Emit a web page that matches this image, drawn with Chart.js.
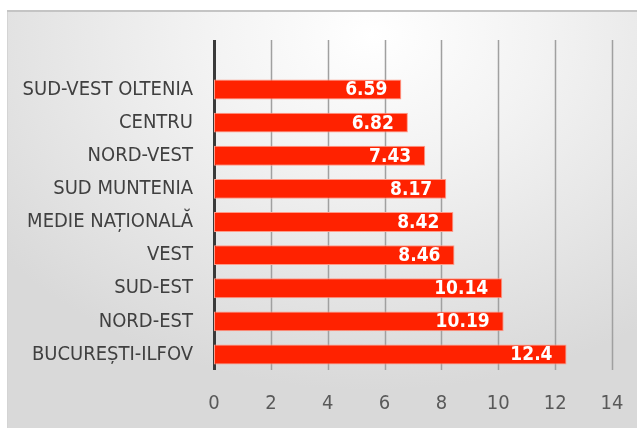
<!DOCTYPE html>
<html>
<head>
<meta charset="utf-8">
<script src="https://cdn.jsdelivr.net/npm/chart.js@4.4.1/dist/chart.umd.min.js"></script>
<style>
  html, body { margin: 0; padding: 0; background: #fff; }
  #panel {
    position: absolute; left: 7px; top: 10px; width: 630px; height: 418px;
    background: radial-gradient(ellipse 75% 85% at 58% 6%, #ffffff 0%, #f3f3f3 35%, #d9d9d9 100%);
    box-shadow: inset 0 2px 0 #c4c4c4, inset 1px 0 0 #d4d4d4;
  }
  #myChart { display: block; }
</style>
</head>
<body>
<div id="panel"><canvas id="myChart" width="630" height="418"></canvas></div>
<script>
// date grafic
var regions = ['SUD-VEST OLTENIA', 'CENTRU', 'NORD-VEST', 'SUD MUNTENIA', 'MEDIE NAȚIONALĂ', 'VEST', 'SUD-EST', 'NORD-EST', 'BUCUREȘTI-ILFOV'];
var values = [6.59, 6.82, 7.43, 8.17, 8.42, 8.46, 10.14, 10.19, 12.4];
var xTicks = [0, 2, 4, 6, 8, 10, 12, 14];

var fontFam = '"DejaVu Sans Condensed", "Liberation Sans Narrow", sans-serif';

// linii de grila prelungite peste zona categoriilor
var gridPlugin = {
  id: 'extGrid',
  beforeDatasetsDraw: function(chart) {
    var ctx = chart.ctx, xs = chart.scales.x, area = chart.chartArea;
    var top = area.top - 33, bottom = area.bottom - 1;
    ctx.save();
    xTicks.forEach(function(t) {
      var px = Math.round(xs.getPixelForValue(t)) + 0.5;
      ctx.beginPath();
      ctx.strokeStyle = t === 0 ? '#3a3a3a' : '#a0a0a0';
      ctx.lineWidth = t === 0 ? 3 : 1.5;
      ctx.moveTo(px, top);
      ctx.lineTo(px, bottom);
      ctx.stroke();
    });
    ctx.restore();
  }
};

// etichete valori in interiorul barelor
var labelPlugin = {
  id: 'barLabels',
  afterDatasetsDraw: function(chart) {
    var ctx = chart.ctx;
    var meta = chart.getDatasetMeta(0);
    ctx.save();
    ctx.font = 'bold 19px ' + fontFam;
    ctx.fillStyle = '#ffffff';
    ctx.textAlign = 'right';
    ctx.textBaseline = 'middle';
    meta.data.forEach(function(bar, i) {
      ctx.fillText(String(values[i]), bar.x - 14, bar.y + 1);
    });
    ctx.restore();
  }
};

var ctx = document.getElementById('myChart').getContext('2d');
var myChart = new Chart(ctx, {
  type: 'bar',
  data: {
    labels: regions,
    datasets: [{
      data: values,
      backgroundColor: '#ff2200',
      borderColor: '#ff9a88',
      borderWidth: 1,
      borderSkipped: false,
      barPercentage: 0.6,
      categoryPercentage: 1
    }]
  },
  options: {
    indexAxis: 'y',
    responsive: false,
    animation: false,
    layout: { padding: { top: 63, right: 25, left: 0, bottom: 0 } },
    plugins: { legend: { display: false }, tooltip: { enabled: false } },
    scales: {
      x: {
        min: 0, max: 14,
        afterBuildTicks: function(s) { s.ticks = xTicks.map(function(v) { return { value: v }; }); },
        afterFit: function(s) { s.height = 57; },
        grid: { display: false },
        border: { display: false },
        ticks: { color: '#595959', padding: 13, font: { family: fontFam, size: 20 } }
      },
      y: {
        afterFit: function(s) { s.width = 207; },
        grid: { display: false },
        border: { display: false },
        ticks: { color: '#404040', padding: 13, font: { family: fontFam, size: 20 } }
      }
    }
  },
  plugins: [gridPlugin, labelPlugin]
});
</script>
</body>
</html>
